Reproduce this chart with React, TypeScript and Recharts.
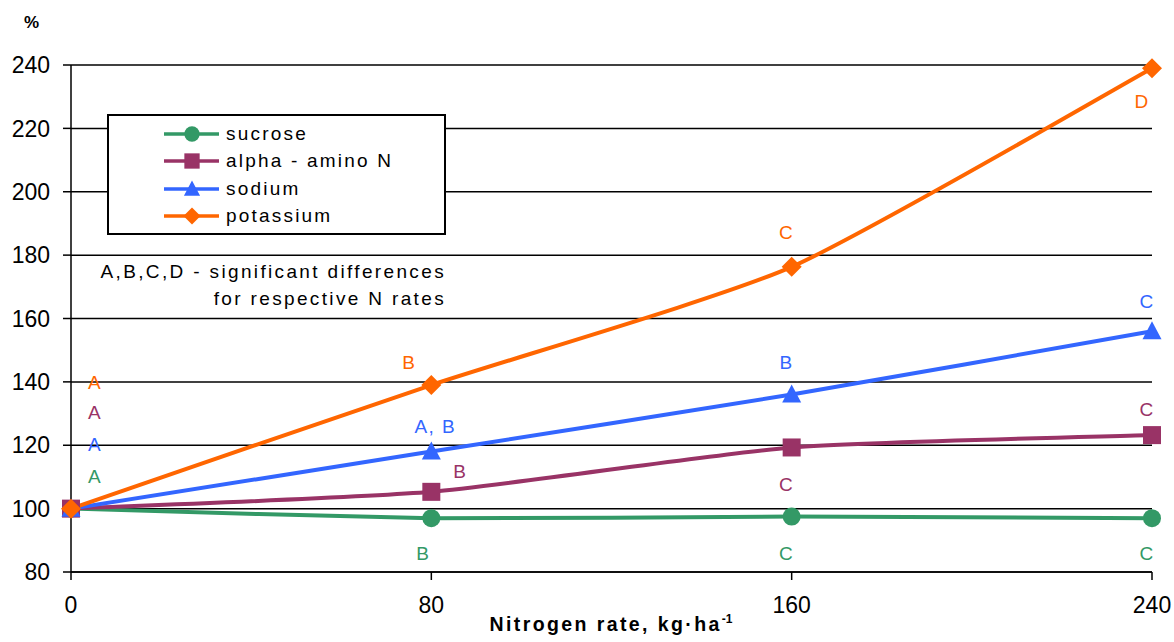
import React from 'react';
import { LineChart, Line, XAxis, YAxis, CartesianGrid, LabelList } from 'recharts';

const nitrogenRates = [0, 80, 160, 240];
const sucrose = [100, 97, 97.5, 97];
const alphaAminoN = [100, 105.3, 119.3, 123.2];
const sodium = [100, 118, 136, 156];
const potassium = [100, 139, 176.3, 239];

const sucroseLetters = ['A', 'B', 'C', 'C'];
const alphaLetters = ['A', 'B', 'C', 'C'];
const sodiumLetters = ['A', 'A, B', 'B', 'C'];
const potassiumLetters = ['A', 'B', 'C', 'D'];

const xTicks = [0, 80, 160, 240];
const yTicks = [80, 100, 120, 140, 160, 180, 200, 220, 240];

const seriesNames = ['sucrose', 'alpha - amino N', 'sodium', 'potassium'];
const annotationLines = ['A,B,C,D - significant differences', 'for respective N rates'];

const COLORS = {
  sucrose: '#339966',
  alpha: '#993366',
  sodium: '#3366FF',
  potassium: '#FF6600',
};

// label offsets (pixels) relative to each point
const sucroseOff = [{ dx: 24, dy: -32 }, { dx: -8, dy: 35 }, { dx: -5, dy: 37 }, { dx: -5, dy: 35 }];
const alphaOff = [{ dx: 24, dy: -96 }, { dx: 29, dy: -20 }, { dx: -5, dy: 37 }, { dx: -5, dy: -26 }];
const sodiumOff = [{ dx: 24, dy: -64 }, { dx: 4, dy: -25 }, { dx: -5, dy: -32 }, { dx: -5, dy: -30 }];
const potassiumOff = [{ dx: 24, dy: -126 }, { dx: -22, dy: -23 }, { dx: -5, dy: -34 }, { dx: -10, dy: 33 }];

const data = nitrogenRates.map((n, i) => ({
  n,
  sucrose: sucrose[i],
  alpha: alphaAminoN[i],
  sodium: sodium[i],
  potassium: potassium[i],
  sucroseL: sucroseLetters[i],
  alphaL: alphaLetters[i],
  sodiumL: sodiumLetters[i],
  potassiumL: potassiumLetters[i],
}));

const FONT = '"Liberation Sans", Arial, sans-serif';

// Gentle Catmull-Rom style smoothing (similar to spreadsheet "smoothed line")
const SMOOTH = 1 / 10;
function smoothCurve(context: any) {
  let pts: number[][] = [];
  return {
    areaStart() {},
    areaEnd() {},
    lineStart() {
      pts = [];
    },
    point(x: number, y: number) {
      pts.push([+x, +y]);
    },
    lineEnd() {
      if (!pts.length) return;
      context.moveTo(pts[0][0], pts[0][1]);
      for (let i = 0; i < pts.length - 1; i++) {
        const p0 = pts[i - 1] || pts[i];
        const p1 = pts[i];
        const p2 = pts[i + 1];
        const p3 = pts[i + 2] || pts[i + 1];
        context.bezierCurveTo(
          p1[0] + (p2[0] - p0[0]) * SMOOTH,
          p1[1] + (p2[1] - p0[1]) * SMOOTH,
          p2[0] - (p3[0] - p1[0]) * SMOOTH,
          p2[1] - (p3[1] - p1[1]) * SMOOTH,
          p2[0],
          p2[1]
        );
      }
    },
  };
}

const Circle = (cx: number, cy: number, c: string, k?: any, s = 1) => <circle key={k} cx={cx} cy={cy} r={9 * s} fill={c} />;
const Square = (cx: number, cy: number, c: string, k?: any, s = 1) => (
  <rect key={k} x={cx - 9 * s} y={cy - 9 * s} width={18 * s} height={18 * s} fill={c} />
);
const Triangle = (cx: number, cy: number, c: string, k?: any, s = 1) => (
  <polygon key={k} points={`${cx},${cy - 10 * s} ${cx + 9.5 * s},${cy + 8 * s} ${cx - 9.5 * s},${cy + 8 * s}`} fill={c} />
);
const Diamond = (cx: number, cy: number, c: string, k?: any, s = 1) => (
  <polygon key={k} points={`${cx},${cy - 10 * s} ${cx + 10 * s},${cy} ${cx},${cy + 10 * s} ${cx - 10 * s},${cy}`} fill={c} />
);

const makeDot = (shape: any, color: string) => (p: any) => {
  if (p.cx == null || p.cy == null) return <g key={p.index} />;
  return shape(p.cx, p.cy, color, p.index);
};

const makeLabel = (offs: any[], color: string) => (p: any) => {
  const o = offs[p.index] || { dx: 0, dy: 0 };
  return (
    <text
      key={p.index}
      x={p.x + o.dx}
      y={p.y + o.dy}
      fill={color}
      fontSize={19}
      fontFamily={FONT}
      letterSpacing={1.5}
      textAnchor="middle"
      dominantBaseline="central"
    >
      {p.value}
    </text>
  );
};

const legendShapes = [Circle, Square, Triangle, Diamond];
const legendColors = [COLORS.sucrose, COLORS.alpha, COLORS.sodium, COLORS.potassium];

export default function App() {
  return (
    <div style={{ position: 'absolute', left: 0, top: 0, width: 1174, height: 642, background: '#fff', fontFamily: FONT }}>
      <LineChart width={1174} height={642} data={data} margin={{ top: 65, right: 22, left: 0, bottom: 0 }}>
        <CartesianGrid horizontal vertical={false} stroke="#000" strokeWidth={1.5} />
        <XAxis
          dataKey="n"
          type="number"
          domain={[0, 240]}
          ticks={xTicks}
          height={70}
          axisLine={{ stroke: '#000', strokeWidth: 1.5 }}
          tickLine={{ stroke: '#000', strokeWidth: 1.5 }}
          tickSize={8}
          tickMargin={17}
          tick={{ fill: '#000', fontSize: 23, fontFamily: FONT }}
          interval={0}
        />
        <YAxis
          type="number"
          domain={[80, 240]}
          ticks={yTicks}
          width={71}
          axisLine={{ stroke: '#000', strokeWidth: 1.5 }}
          tickLine={{ stroke: '#000', strokeWidth: 1.5 }}
          tickSize={8}
          tickMargin={13}
          tick={{ fill: '#000', fontSize: 23, fontFamily: FONT }}
          interval={0}
        />
        <Line type={smoothCurve as any} dataKey="sucrose" stroke={COLORS.sucrose} strokeWidth={4} dot={makeDot(Circle, COLORS.sucrose)} isAnimationActive={false}>
          <LabelList dataKey="sucroseL" content={makeLabel(sucroseOff, COLORS.sucrose)} />
        </Line>
        <Line type={smoothCurve as any} dataKey="alpha" stroke={COLORS.alpha} strokeWidth={4} dot={makeDot(Square, COLORS.alpha)} isAnimationActive={false}>
          <LabelList dataKey="alphaL" content={makeLabel(alphaOff, COLORS.alpha)} />
        </Line>
        <Line type={smoothCurve as any} dataKey="sodium" stroke={COLORS.sodium} strokeWidth={4} dot={makeDot(Triangle, COLORS.sodium)} isAnimationActive={false}>
          <LabelList dataKey="sodiumL" content={makeLabel(sodiumOff, COLORS.sodium)} />
        </Line>
        <Line type={smoothCurve as any} dataKey="potassium" stroke={COLORS.potassium} strokeWidth={4} dot={makeDot(Diamond, COLORS.potassium)} isAnimationActive={false}>
          <LabelList dataKey="potassiumL" content={makeLabel(potassiumOff, COLORS.potassium)} />
        </Line>
      </LineChart>

      {/* % label */}
      <div style={{ position: 'absolute', left: 24, top: 13, fontSize: 17, fontWeight: 'bold', color: '#000' }}>%</div>

      {/* Legend */}
      <div
        style={{
          position: 'absolute',
          left: 107,
          top: 114,
          width: 335,
          height: 117,
          border: '2px solid #000',
          background: '#fff',
        }}
      >
        {seriesNames.map((name, i) => (
          <div key={name} style={{ position: 'absolute', left: 54, top: 4 + i * 27.5, height: 27, display: 'flex', alignItems: 'center' }}>
            <svg width={58} height={22} style={{ display: 'block' }}>
              <line x1={1} y1={11} x2={56} y2={11} stroke={legendColors[i]} strokeWidth={3.5} />
              {legendShapes[i](29, 11, legendColors[i], undefined, 0.85)}
            </svg>
            <span style={{ marginLeft: 5, fontSize: 19, letterSpacing: 2.2, color: '#000', whiteSpace: 'nowrap' }}>{name}</span>
          </div>
        ))}
      </div>

      {/* Annotation */}
      <div style={{ position: 'absolute', left: 96, top: 258, width: 350, textAlign: 'right', fontSize: 19, letterSpacing: 2.35, lineHeight: '27px', color: '#000', whiteSpace: 'nowrap' }}>
        <div>{annotationLines[0]}</div>
        <div>{annotationLines[1]}</div>
      </div>

      {/* X axis title */}
      <div style={{ position: 'absolute', left: 0, width: 1222, top: 612, textAlign: 'center', fontSize: 19.5, fontWeight: 'bold', letterSpacing: 2.4, color: '#000', whiteSpace: 'nowrap' }}>
        Nitrogen rate, kg·ha<sup style={{ fontSize: 12, letterSpacing: 0 }}>-1</sup>
      </div>
    </div>
  );
}
